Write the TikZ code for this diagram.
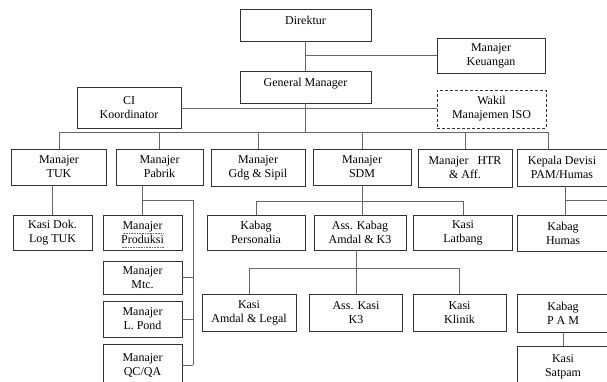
\documentclass[tikz,border=0pt]{standalone}
\usepackage{fontspec}
\setmainfont{Liberation Serif}
\tikzset{sz/.style 2 args={minimum width=#1pt, minimum height=#2pt}}

\begin{document}
\begin{tikzpicture}[x=1pt,y=-1pt]
\tikzstyle{every node}+=[font=\fontsize{12}{14}\selectfont, align=center, inner sep=0pt]
\tikzstyle{box}=[draw=black!80, line width=0.8pt, rectangle]
\tikzstyle{oneline}=[text depth=9pt]
\tikzstyle{link}=[draw=black!60, line width=0.9pt]
\tikzstyle{spell}=[draw=blue!65, line width=0.7pt, dash pattern=on 0.7pt off 0.9pt]
\useasboundingbox (0,0) rectangle (607,381);
% top
\node [box, oneline, sz={131}{32}] (dir) at (305.5,25) {Direktur};
\node [box, sz={108}{35}] (keu) at (491,55.5) {Manajer\\Keuangan};
\node [box, oneline, sz={131}{32}] (gm) at (305.5,87) {General Manager};
\node [box, sz={104}{41}] (ci) at (129,108) {CI\\Koordinator};
\node [box, dashed, dash pattern=on 3pt off 2pt, sz={109}{38}] (wakil) at (491.5,109) {Wakil\\Manajemen ISO};
% managers
\node [box, sz={95}{36}] (tuk) at (59,167) {Manajer\\TUK};
\node [box, sz={87}{36}] (pabrik) at (159.5,167) {Manajer\\Pabrik};
\node [box, sz={94}{37}] (gdg) at (258,167.5) {Manajer\\Gdg \& Sipil};
\node [box, sz={98}{36}] (sdm) at (362,167) {Manajer\\SDM};
\node [box, sz={94}{38}] (htr) at (465,168) {Manajer\ \ \ HTR\\\& Aff.};
\node [box, sz={90}{37}] (kep) at (562,167.5) {Kepala Devisi\\PAM/Humas};
% third level
\node [box, sz={79}{35}] (kd) at (52.5,232.5) {Kasi Dok.\\Log TUK};
\node [box, sz={79}{35}] (prod) at (142.5,232.5) {Manajer\\Produksi};
\node [box, sz={79}{33}] (mtc) at (142.5,277.5) {Manajer\\Mtc.};
\node [box, sz={79}{36}] (lpond) at (142.5,319) {Manajer\\L. Pond};
\node [box, sz={79}{42}] (qc) at (142.5,365) {Manajer\\QC/QA};
\node [box, sz={98}{35}] (per) at (256,232.5) {Kabag\\Personalia};
\node [box, sz={92}{35}] (ak) at (360,232.5) {Ass. Kabag\\Amdal \& K3};
\node [box, sz={99}{35}] (lat) at (463,232.5) {Kasi\\Latbang};
\node [box, sz={92}{36}] (hum) at (563,233) {Kabag\\Humas};
\node [box, sz={94}{37}] (amdal) at (249,312.5) {Kasi\\Amdal \& Legal};
\node [box, sz={93}{37}] (k3) at (356,312.5) {Ass. Kasi\\K3};
\node [box, sz={93}{37}] (klinik) at (459.5,312.5) {Kasi\\Klinik};
\node [box, sz={92}{38}] (pam) at (563,313) {Kabag\\P A M};
\node [box, sz={92}{42}] (satpam) at (563,367) {Kasi\\Satpam};
% spell-check marks under Manajer Produksi
\draw [spell] ([shift={(-20,0.5)}]prod.center) -- ([shift={(21,0.5)}]prod.center);
\draw [spell] ([shift={(-21,14.5)}]prod.center) -- ([shift={(21.5,14.5)}]prod.center);
% bus points
\coordinate (bus) at (305.5,132);
\coordinate (busR) at (548,132);
\coordinate (pbus) at (193,200);
\coordinate (sbus) at (360,201);
\coordinate (kbus) at (565,200);
\coordinate (kend) at (612,200);
\coordinate (abus) at (358,268);
% connectors
\draw [link] (dir) -- (gm);
\draw [link] (dir.south |- keu.west) -- (keu.west);
\draw [link] (ci.east) -- (ci.east -| wakil.west);
\draw [link] (gm) -- (bus);
\draw [link] (tuk.north |- bus) -- (busR) -- (busR |- kep.north);
\foreach \n in {tuk,pabrik,gdg,sdm,htr}
  \draw [link] (\n.north) -- (\n.north |- bus);
\draw [link] (kd.north) -- (kd.north |- tuk.south);
\draw [link] (prod.north) -- (prod.north |- pabrik.south);
\draw [link] (prod.north |- pbus) -- (pbus) -- (pbus |- qc.east);
\foreach \n in {mtc,lpond,qc}
  \draw [link] (\n.east) -- (\n.east -| pbus);
\draw [link] (sdm.south) -- (sdm.south |- ak.north);
\draw [link] (per.north) -- (per.north |- sbus) -- (lat.north |- sbus) -- (lat.north);
\draw [link] (kep.south -| kbus) -- (hum.north -| kbus);
\draw [link] (kbus) -- (kend);
\draw [link] (ak.south -| k3.north) -- (k3.north);
\draw [link] (amdal.north) -- (amdal.north |- abus) -- (klinik.north |- abus) -- (klinik.north);
\draw [link] (pam) -- (satpam);
\end{tikzpicture}
\end{document}
